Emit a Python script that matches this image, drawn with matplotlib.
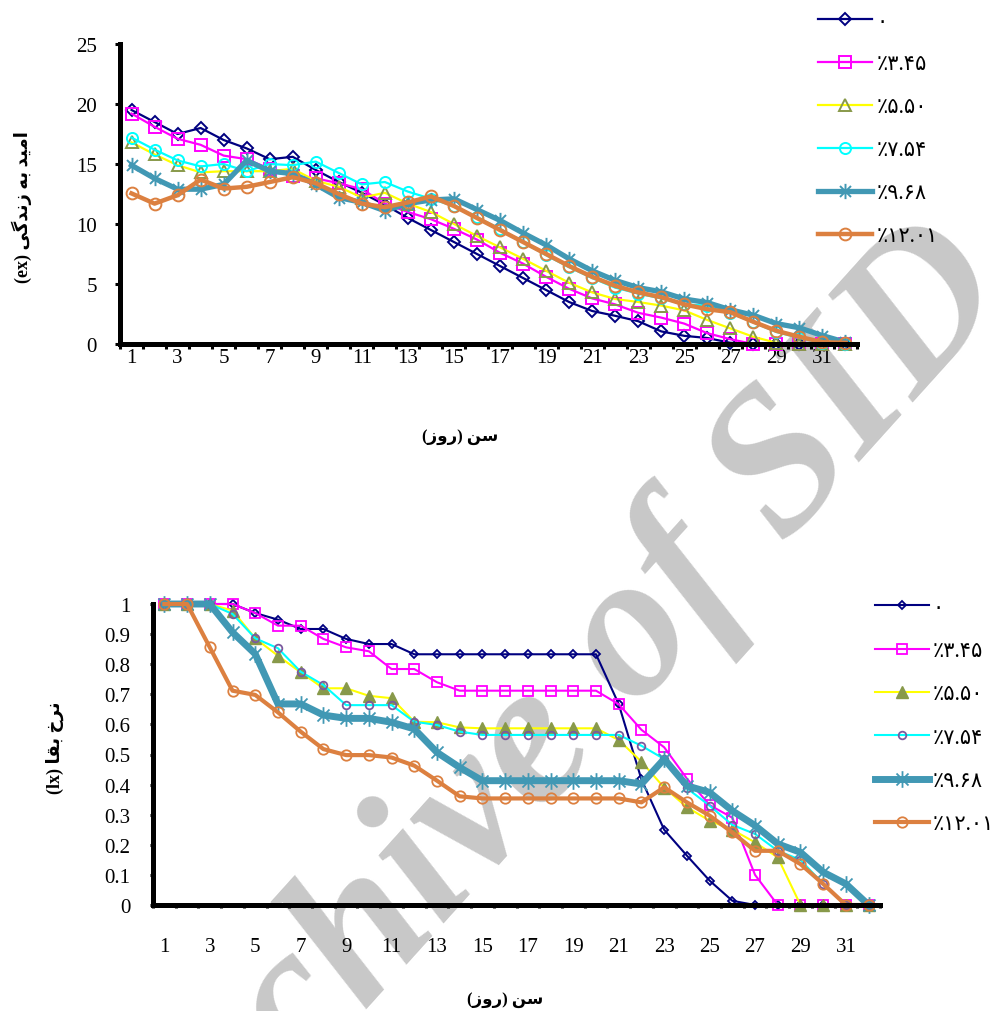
import matplotlib
matplotlib.use("Agg")
import matplotlib.pyplot as plt
from matplotlib.path import Path

plt.rcParams['font.family'] = ['Liberation Serif', 'DejaVu Sans']

##### data ########
days = list(range(1, 33))
xtick_days = list(range(1, 32, 2))

# legend labels: 0, %3.45, %5.50, %7.54, %9.68, %12.01 (persian digits)
labels = ["\u06F0",
          "\u066A\u06F3.\u06F4\u06F5",
          "\u066A\u06F5.\u06F5\u06F0",
          "\u066A\u06F7.\u06F5\u06F4",
          "\u066A\u06F9.\u06F6\u06F8",
          "\u066A\u06F1\u06F2.\u06F0\u06F1"]

# life expectancy (ex)
ex_0 = [19.5, 18.5, 17.5, 18.0, 17.0, 16.3, 15.4, 15.6, 14.5, 13.5, 12.6, 11.6, 10.5, 9.5, 8.5, 7.5,
        6.5, 5.5, 4.5, 3.5, 2.75, 2.35, 1.9, 1.05, 0.68, 0.5, 0.1, 0, 0, 0, 0, 0]
ex_345 = [19.2, 18.1, 17.1, 16.6, 15.7, 15.4, 14.6, 14.0, 13.8, 13.4, 12.9, 11.7, 11.0, 10.4, 9.6, 8.7,
          7.6, 6.7, 5.6, 4.6, 3.8, 3.3, 2.6, 2.2, 1.7, 0.9, 0.4, 0, 0, 0, 0, 0]
ex_550 = [16.8, 15.8, 14.9, 14.3, 14.4, 14.4, 14.4, 14.6, 13.6, 13.1, 12.2, 12.6, 11.7, 11.0, 10.0, 9.0,
          8.05, 7.1, 6.1, 5.1, 4.3, 3.75, 3.5, 3.2, 2.8, 2.0, 1.3, 0.6, 0.1, 0, 0, 0]
ex_754 = [17.2, 16.2, 15.3, 14.8, 15.0, 14.4, 15.0, 14.9, 15.2, 14.25, 13.3, 13.5, 12.7, 12.1, 11.5, 10.55,
          9.6, 8.5, 7.4, 6.4, 5.5, 4.7, 4.2, 3.8, 3.3, 3.2, 2.6, 1.8, 1.0, 0.5, 0.1, 0]
ex_968 = [14.9, 13.8, 12.9, 12.9, 13.3, 15.3, 14.4, 14.2, 13.3, 12.2, 11.8, 11.1, 11.7, 12.0, 12.1, 11.2,
          10.3, 9.25, 8.25, 7.1, 6.1, 5.3, 4.7, 4.35, 3.75, 3.45, 2.85, 2.4, 1.7, 1.35, 0.7, 0.15]
ex_1201 = [12.55, 11.7, 12.4, 13.7, 12.95, 13.1, 13.5, 13.9, 13.4, 12.5, 11.7, 11.4, 11.8, 12.3, 11.5, 10.5,
           9.5, 8.5, 7.5, 6.5, 5.6, 4.85, 4.3, 3.9, 3.3, 2.9, 2.65, 1.85, 1.1, 0.6, 0.15, 0.1]

# survival rate (lx)
lx_0 = [1, 1, 1, 1, 0.97, 0.948, 0.917, 0.917, 0.884, 0.867, 0.867, 0.833, 0.833, 0.833, 0.833, 0.833,
        0.833, 0.833, 0.833, 0.833, 0.667, 0.417, 0.25, 0.164, 0.081, 0.014, 0, 0, 0, 0, 0, 0]
lx_345 = [1, 1, 1, 1, 0.97, 0.928, 0.928, 0.884, 0.856, 0.843, 0.784, 0.784, 0.74, 0.712, 0.712, 0.712,
          0.712, 0.712, 0.712, 0.712, 0.667, 0.582, 0.524, 0.42, 0.332, 0.29, 0.1, 0, 0, 0, 0, 0]
lx_550 = [1, 1, 1, 0.978, 0.886, 0.828, 0.773, 0.72, 0.72, 0.695, 0.687, 0.609, 0.607, 0.59, 0.587, 0.587,
          0.587, 0.587, 0.587, 0.587, 0.548, 0.476, 0.39, 0.325, 0.28, 0.25, 0.208, 0.158, 0, 0, 0, 0]
lx_754 = [1, 1, 1, 0.967, 0.886, 0.853, 0.775, 0.731, 0.664, 0.664, 0.664, 0.609, 0.598, 0.576, 0.565, 0.565,
          0.565, 0.565, 0.565, 0.565, 0.565, 0.529, 0.485, 0.388, 0.33, 0.266, 0.236, 0.18, 0.15, 0.07, 0, 0]
lx_968 = [1, 1, 1, 0.906, 0.834, 0.668, 0.668, 0.631, 0.62, 0.62, 0.607, 0.585, 0.507, 0.457, 0.413, 0.413,
          0.413, 0.413, 0.413, 0.413, 0.413, 0.402, 0.485, 0.396, 0.374, 0.313, 0.264, 0.203, 0.175, 0.109, 0.07, 0]
lx_1201 = [1, 1, 0.856, 0.712, 0.698, 0.64, 0.576, 0.518, 0.498, 0.498, 0.49, 0.463, 0.413, 0.361, 0.354, 0.354,
           0.354, 0.354, 0.354, 0.354, 0.354, 0.341, 0.391, 0.341, 0.297, 0.241, 0.18, 0.18, 0.136, 0.07, 0, 0]

lx_ticks = [0, 0.1, 0.2, 0.3, 0.4, 0.5, 0.6, 0.7, 0.8, 0.9, 1]
lx_ticklabels = ["0", "0.1", "0.2", "0.3", "0.4", "0.5", "0.6", "0.7", "0.8", "0.9", "1"]

# persian labels, written in visual (presentation form) order
ylab_ex = "(ex) \uFEF0\uFB94\uFEAA\uFEE7\uFEAF \uFEEA\uFE91 \uFEAA\uFEF4\uFEE3\uFE8D"
ylab_lx = "(lx) \uFE8E\uFED8\uFE91 \uFEA5\uFEAE\uFEE7"
xlab = "(\uFEAF\uFEED\uFEAD) \uFEE6\uFEB3"

##### styles ########
W, H = 995, 1012
navy, magenta, yellow, cyan, teal, orange = '#000080', '#FF00FF', '#FFFF00', '#00FFFF', '#4198B4', '#DC8040'
olive, purple = '#88994A', '#7A5A9E'
star = Path([(0, -1), (0, 1), (-0.72, -0.72), (0.72, 0.72), (-0.72, 0.72), (0.72, -0.72)],
            [Path.MOVETO, Path.LINETO] * 3)

top_styles = [
    dict(color=navy, lw=1.6, marker='D', ms=6.5, mfc='none', mec=navy, mew=1.4),
    dict(color=magenta, lw=1.6, marker='s', ms=8, mfc='none', mec=magenta, mew=1.4),
    dict(color=yellow, lw=1.6, marker='^', ms=9, mfc='none', mec=olive, mew=1.4),
    dict(color=cyan, lw=1.6, marker='o', ms=8, mfc='none', mec=cyan, mew=1.4),
    dict(color=teal, lw=3.8, marker=star, ms=11, mec=teal, mew=1.4),
    dict(color=orange, lw=3.2, marker='o', ms=8.5, mfc='none', mec=orange, mew=1.4),
]
bot_styles = [
    dict(color=navy, lw=1.5, marker='D', ms=4.2, mfc='none', mec=navy, mew=1.3),
    dict(color=magenta, lw=1.5, marker='s', ms=6.5, mfc='none', mec=magenta, mew=1.3),
    dict(color=yellow, lw=1.5, marker='^', ms=8, mfc=olive, mec=olive, mew=1.0),
    dict(color=cyan, lw=1.5, marker='o', ms=5.5, mfc='none', mec=purple, mew=1.3),
    dict(color=teal, lw=5, marker=star, ms=12, mec=teal, mew=1.3),
    dict(color=orange, lw=3, marker='o', ms=7.5, mfc='none', mec=orange, mew=1.3),
]


def box(l, t, r, b):
    return [l / W, 1 - b / H, (r - l) / W, (b - t) / H]


def style_axes(ax, tick_len, tick_pad_y, tick_pad_x):
    for s in ['top', 'right']:
        ax.spines[s].set_visible(False)
    for s in ['left', 'bottom']:
        ax.spines[s].set_linewidth(3.6)
        ax.spines[s].set_capstyle('projecting')
    ax.set_xlim(0.5, 32.5)
    ax.set_xticks(xtick_days)
    ax.set_xticks([d + 0.5 for d in range(0, 33)], minor=True)
    ax.tick_params(axis='x', which='major', length=0, pad=tick_pad_x, labelsize=15)
    ax.tick_params(axis='x', which='minor', length=tick_len, width=2.2, direction='out')
    ax.tick_params(axis='y', which='major', length=tick_len, width=2.2, direction='out',
                   pad=tick_pad_y, labelsize=15)
    ax.patch.set_facecolor('none')


fig = plt.figure(figsize=(W / 100, H / 100), dpi=100)

# watermark behind the charts
fig.text(552 / W, 1 - 740 / H, "Archive of SID", rotation=48, fontsize=148, color='#C8C8C8',
         style='italic', weight='bold', family='Liberation Serif', ha='center', va='center', zorder=-5)

####### top chart: ex #######
ax1 = fig.add_axes(box(120, 45, 857, 345))
for y, lab, st in zip([ex_0, ex_345, ex_550, ex_754, ex_968, ex_1201], labels, top_styles):
    ax1.plot(days, y, label=lab, clip_on=False, **st)
ax1.set_ylim(0, 25)
ax1.set_yticks([0, 5, 10, 15, 20, 25])
style_axes(ax1, 3.6, 13, 3)
ax1.legend(loc='upper left', bbox_to_anchor=(818 / W, 1 - 13 / H), bbox_transform=fig.transFigure,
           frameon=False, fontsize=15, handlelength=2.6, handletextpad=0.2, labelspacing=1.12,
           borderpad=0, borderaxespad=0)
fig.text(22 / W, 1 - 207 / H, ylab_ex, rotation=90, ha='center', va='center', fontsize=13, weight='bold')
fig.text(460 / W, 1 - 437 / H, xlab, ha='center', va='center', fontsize=12, weight='bold')

####### bottom chart: lx #######
ax2 = fig.add_axes(box(153, 605, 880, 906))
for y, lab, st in zip([lx_0, lx_345, lx_550, lx_754, lx_968, lx_1201], labels, bot_styles):
    ax2.plot(days, y, label=lab, clip_on=False, **st)
ax2.set_ylim(0, 1)
ax2.set_yticks(lx_ticks)
ax2.set_yticklabels(lx_ticklabels)
style_axes(ax2, 2.2, 14, 23)
ax2.legend(loc='upper left', bbox_to_anchor=(875 / W, 1 - 599 / H), bbox_transform=fig.transFigure,
           frameon=False, fontsize=15, handlelength=2.6, handletextpad=0.15, labelspacing=1.14,
           borderpad=0, borderaxespad=0)
fig.text(55 / W, 1 - 748 / H, ylab_lx, rotation=90, ha='center', va='center', fontsize=13, weight='bold')
fig.text(505 / W, 1 - 1000 / H, xlab, ha='center', va='center', fontsize=12, weight='bold')

fig.savefig("out.png", dpi=100)
